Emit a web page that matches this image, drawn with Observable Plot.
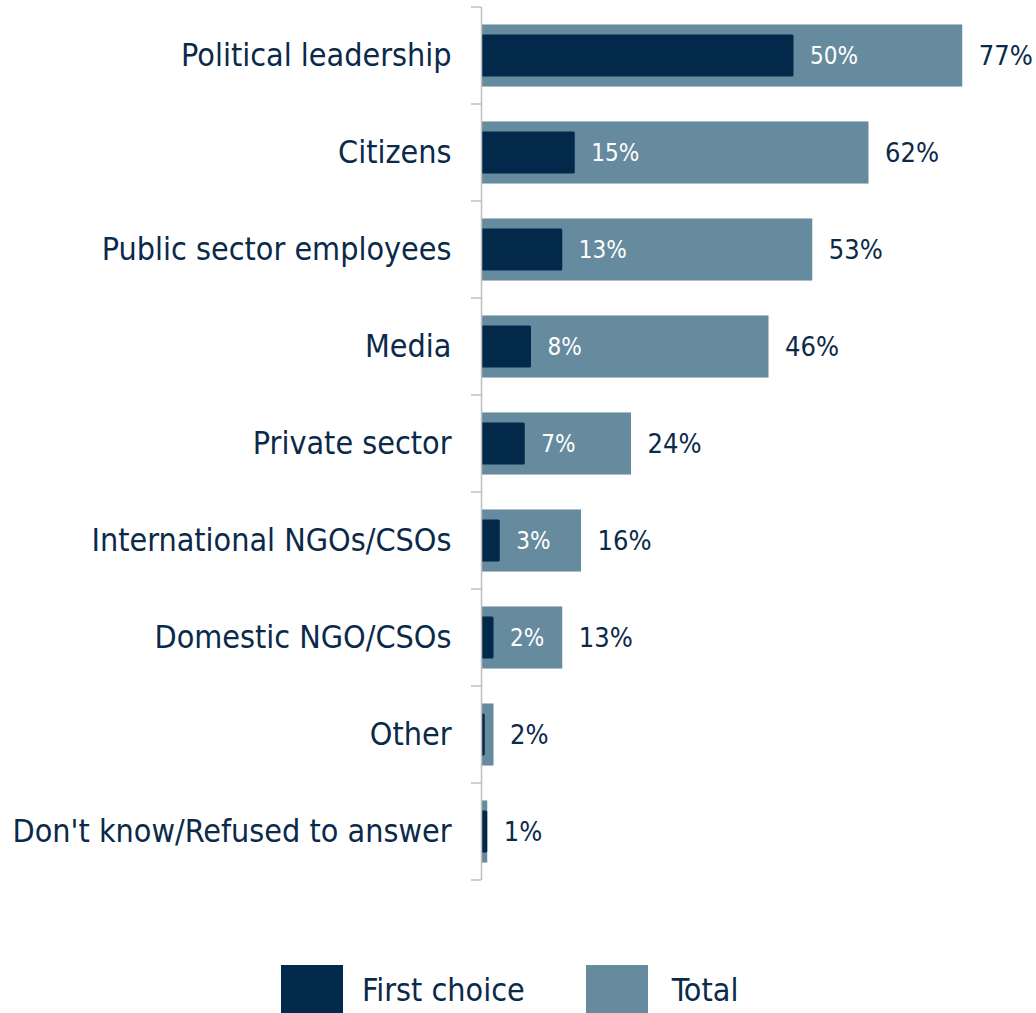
<!DOCTYPE html>
<html><head><meta charset="utf-8">
<script src="https://cdn.jsdelivr.net/npm/d3@7"></script>
<script src="https://cdn.jsdelivr.net/npm/@observablehq/plot@0.6"></script>
<style>
body{margin:0;background:#fff;font-family:"DejaVu Sans Condensed","DejaVu Sans",sans-serif;}
#chart{position:absolute;left:0;top:0;}
#legend{position:absolute;top:965px;left:281px;display:flex;align-items:center;font-size:32px;color:#0b2a4a;}
.sw{width:62px;height:50px;display:inline-block;}
.item{display:flex;align-items:center;}
</style></head>
<body>
<div id="chart"></div>
<div id="legend"></div>
<script>
const categories = ["Political leadership","Citizens","Public sector employees","Media","Private sector","International NGOs/CSOs","Domestic NGO/CSOs","Other","Don't know/Refused to answer"];
const firstChoice = [50,15,13,8,7,3,2,0.6,1];
const total = [77,62,53,46,24,16,13,2,1];
const seriesNames = ["First choice","Total"];
const colors = ["#02284a","#668a9e"];

const rows = categories.map((c,i)=>({cat:c, first:firstChoice[i], total:total[i]}));
const font = '"DejaVu Sans Condensed","DejaVu Sans",sans-serif';
const pIn = 0.36;

const boundaryTicks = (index, scales, values, dims) => {
  const y = scales.y;
  const bw = y.bandwidth ? y.bandwidth() : 0;
  const step = y.step ? y.step() : bw/(1-pIn);
  const x0 = scales.x(0);
  const g = d3.create("svg:g");
  const ys = categories.map(c => y(c) - pIn*step/2);
  ys.push(y(categories[categories.length-1]) + bw + pIn*step/2);
  ys.forEach(v => g.append("line").attr("x1", x0-10).attr("x2", x0).attr("y1", v).attr("y2", v)
    .attr("stroke", "#bfbfbf").attr("stroke-width", 1.5));
  return g.node();
};

const chart = Plot.plot({
  width: 1036, height: 890,
  marginLeft: 481, marginRight: 55, marginTop: 7, marginBottom: 10,
  style: {fontFamily: font, fontSize: "26px", color: "#0b2a4a", background: "#fff"},
  x: {domain: [0, 80], axis: null},
  y: {domain: categories, paddingInner: pIn, paddingOuter: pIn/2, round: false, label: null},
  marks: [
    Plot.barX(rows, {y: "cat", x: "total", fill: colors[1]}),
    Plot.barX(rows, {y: "cat", x: "first", fill: colors[0], insetTop: 10, insetBottom: 10, rx: 1.5}),
    Plot.ruleX([0], {stroke: "#bfbfbf", strokeWidth: 1.5}),
    boundaryTicks,
    Plot.axisY({tickSize: 0, tickPadding: 30, fontSize: 32, fill: "#0b2a4a", label: null}),
    Plot.text(rows.filter(d => d.first >= 2), {y: "cat", x: "first", text: d => d.first + "%", textAnchor: "start", dx: 16, fill: "#fff", fontSize: 24}),
    Plot.text(rows, {y: "cat", x: d => Math.max(d.total, d.first), text: d => d.total + "%", textAnchor: "start", dx: 16, fill: "#0b2a4a", fontSize: 27})
  ]
});
document.getElementById("chart").append(chart);

const leg = d3.select("#legend");
seriesNames.forEach((n,i) => {
  const it = leg.append("div").attr("class","item").style("margin-right", i===0 ? "61px" : "0");
  it.append("span").attr("class","sw").style("background", colors[i]);
  it.append("span").style("margin-left", i===0 ? "19px" : "24px").text(n);
});
</script>
</body></html>
